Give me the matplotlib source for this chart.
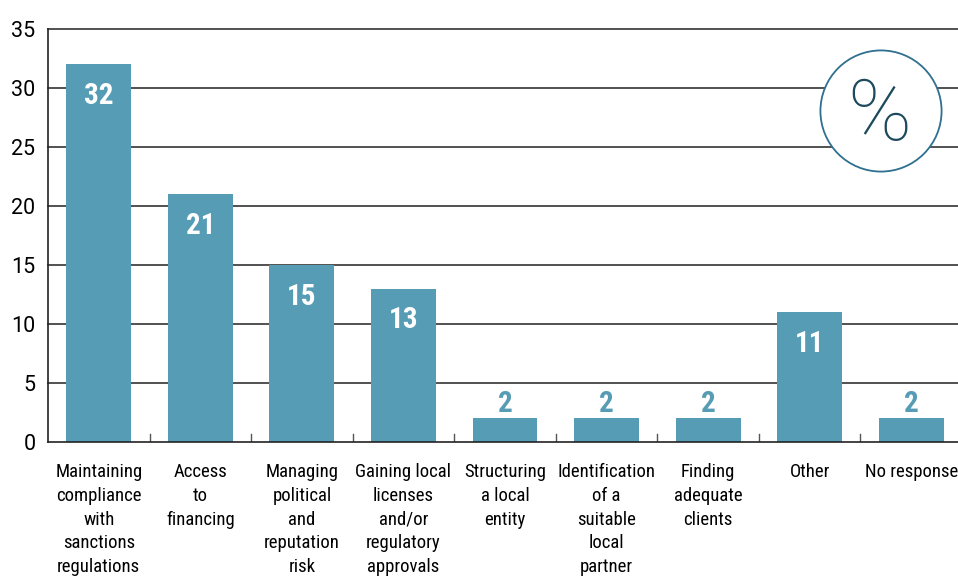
import matplotlib.pyplot as plt
from matplotlib.patches import Ellipse
import numpy as np

# Data
categories = ["Maintaining\ncompliance\nwith\nsanctions\nregulations", "Access\nto\nfinancing",
              "Managing\npolitical\nand\nreputation\nrisk", "Gaining local\nlicenses\nand/or\nregulatory\napprovals",
              "Structuring\na local\nentity", "Identification\nof a\nsuitable\nlocal\npartner",
              "Finding\nadequate\nclients", "Other", "No response"]
values = [32, 21, 15, 13, 2, 2, 2, 11, 2]
yticks = [0, 5, 10, 15, 20, 25, 30, 35]

bar_color = "#569cb5"
plt.rcParams['font.family'] = ['Roboto Condensed', 'DejaVu Sans']

fig = plt.figure(figsize=(9.58, 5.76), dpi=100)
W, H = 958, 576
ax = fig.add_axes([48 / W, 1 - 442 / H, (962 - 48) / W, (442 - 29) / H])

x = np.arange(len(values))
ax.bar(x, values, width=0.64, color=bar_color, zorder=2)
ax.set_xlim(-0.5, len(values) - 0.5)
ax.set_ylim(0, 35)

# grid
for t in yticks[1:]:
    ax.axhline(t, color="#333333", lw=1.2, zorder=1, clip_on=False)
ax.set_yticks(yticks)
ax.set_yticklabels([str(t) for t in yticks], family=['Roboto'], fontsize=15.5)
ax.tick_params(axis='y', length=0, pad=9)

# boundary ticks on x axis
ax.set_xticks(x)
ax.set_xticklabels(categories, fontsize=13.5, linespacing=1.42)
ax.tick_params(axis='x', length=0, pad=15)
for b in x[:-1] + 0.5:
    ax.plot([b, b], [0, 0.7], color="#555555", lw=1, zorder=1)

for s in ['top', 'right']:
    ax.spines[s].set_visible(False)
ax.spines['left'].set_color("#222222")
ax.spines['bottom'].set_color("#222222")
ax.spines['left'].set_linewidth(1.2)
ax.spines['bottom'].set_linewidth(1.2)

# value labels
for xi, v in zip(x, values):
    if v >= 5:
        ax.text(xi, v - 2.7, str(v), ha='center', va='center', color='white',
                fontsize=21, fontweight='bold', zorder=3)
    else:
        ax.text(xi, v + 1.25, str(v), ha='center', va='center', color=bar_color,
                fontsize=21, fontweight='bold', zorder=3)

# percent badge
cx, cy, r = 881, 111, 61
circ_ax = fig.add_axes([(cx - r - 2) / W, 1 - (cy + r + 2) / H, (2 * r + 4) / W, (2 * r + 4) / H])
circ_ax.set_xlim(-1.04, 1.04)
circ_ax.set_ylim(-1.04, 1.04)
circ_ax.axis('off')
circ_ax.add_patch(Ellipse((0, 0), 2, 2, facecolor='white', edgecolor='#2f6f8f', lw=1.3))
circ_ax.text(-0.03, -0.1, "%", ha='center', va='center', fontsize=62, color='#1d4a5c',
             family=['Roboto'], fontweight='light')

fig.savefig("out.png", dpi=100)
